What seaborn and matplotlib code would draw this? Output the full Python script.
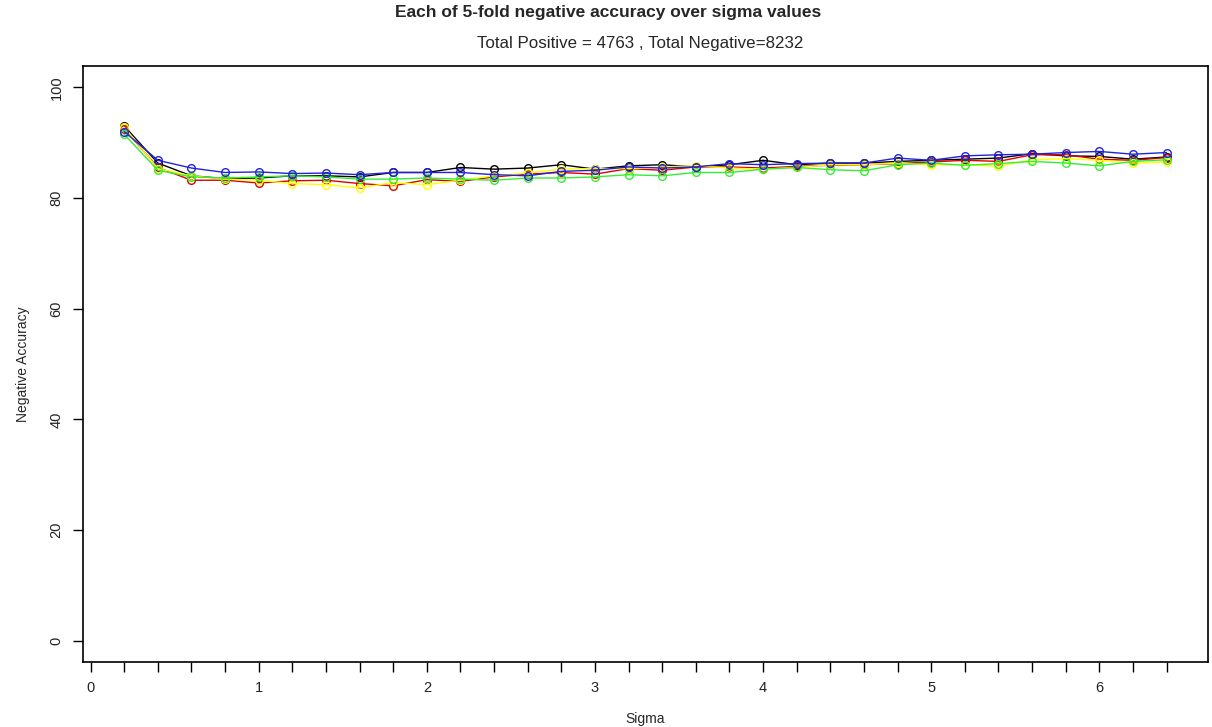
import numpy as np
import pandas as pd
import matplotlib
matplotlib.use("Agg")
import matplotlib.pyplot as plt
import seaborn as sns

sigma = [0.2, 0.4, 0.6, 0.8, 1.0, 1.2, 1.4, 1.6, 1.8, 2.0, 2.2, 2.4, 2.6, 2.8, 3.0, 3.2,
         3.4, 3.6, 3.8, 4.0, 4.2, 4.4, 4.6, 4.8, 5.0, 5.2, 5.4, 5.6, 5.8, 6.0, 6.2, 6.4]

fold1 = [93.0, 86.3, 84.0, 83.5, 83.6, 84.0, 84.0, 83.8, 84.6, 84.6, 85.5, 85.2, 85.4, 86.0, 85.2, 85.8,
         86.0, 85.6, 86.0, 86.8, 86.0, 86.3, 86.3, 86.6, 86.8, 87.0, 87.2, 88.0, 87.6, 87.5, 87.0, 87.4]
fold2 = [92.5, 85.5, 83.2, 83.2, 82.7, 83.1, 83.2, 82.6, 82.2, 83.3, 83.0, 83.8, 84.3, 84.6, 84.3, 85.3,
         85.0, 85.6, 85.6, 85.4, 85.7, 85.9, 86.0, 86.2, 86.5, 86.8, 86.6, 87.8, 87.8, 87.0, 86.8, 87.3]
fold3 = [92.8, 85.3, 84.0, 83.4, 83.2, 82.6, 82.4, 81.8, 82.8, 82.4, 83.2, 84.0, 84.5, 85.2, 85.3, 85.3,
         85.6, 85.8, 85.4, 85.2, 85.5, 86.0, 86.0, 86.3, 86.0, 86.0, 85.7, 86.9, 87.1, 86.8, 86.3, 86.5]
fold4 = [91.5, 85.0, 83.8, 83.6, 83.8, 84.0, 83.8, 83.4, 83.4, 83.6, 83.4, 83.2, 83.6, 83.6, 83.8, 84.2,
         84.0, 84.6, 84.6, 85.2, 85.5, 85.1, 84.9, 86.0, 86.3, 85.9, 86.2, 86.6, 86.3, 85.8, 86.6, 86.9]
fold5 = [92.0, 86.8, 85.4, 84.6, 84.7, 84.4, 84.5, 84.2, 84.6, 84.6, 84.6, 84.2, 84.0, 84.8, 85.0, 85.6,
         85.4, 85.6, 86.2, 86.0, 86.2, 86.3, 86.3, 87.2, 86.8, 87.6, 87.8, 87.9, 88.2, 88.4, 87.9, 88.2]

fold_names = ["fold1", "fold2", "fold3", "fold4", "fold5"]
fold_colors = ["#000000", "#dd0000", "#ffff00", "#33ee33", "#2222dd"]
y_major = [0, 20, 40, 60, 80, 100]

df = pd.DataFrame({
    "Sigma": sigma * 5,
    "Accuracy": fold1 + fold2 + fold3 + fold4 + fold5,
    "Fold": [n for n in fold_names for _ in sigma],
})

sns.set_style("white")
plt.rcParams["font.family"] = ["Liberation Sans", "DejaVu Sans"]

fig = plt.figure(figsize=(12.12, 7.27), dpi=100)
ax = fig.add_axes([0.0685, 0.0894, 0.928, 0.8196])

for name, col in zip(fold_names, fold_colors):
    sub = df[df["Fold"] == name]
    sns.lineplot(data=sub, x="Sigma", y="Accuracy", ax=ax, color=col, linewidth=1.0,
                 marker="o", markersize=5.5, markerfacecolor="none",
                 markeredgecolor=col, markeredgewidth=1.0, legend=False)

ax.set_xlim(-0.045, 6.645)
ax.set_ylim(-3.8, 103.8)

xt = np.arange(0, 6.41, 0.2)
ax.set_xticks(np.round(xt, 1))
ax.set_xticklabels([str(int(round(t))) if abs(t - round(t)) < 1e-9 else "" for t in xt])
ax.set_yticks(y_major)
ax.set_yticklabels([str(v) for v in y_major], rotation=90, va="center")

ax.tick_params(axis="both", which="major", direction="out", length=7, width=1.0,
               color="black", labelsize=10.5, labelcolor="#222222", pad=7,
               bottom=True, left=True)
for s in ax.spines.values():
    s.set_visible(True)
    s.set_color("black")
    s.set_linewidth(1.2)

ax.set_xlabel("Sigma", fontsize=10, labelpad=12)
ax.set_ylabel("Negative Accuracy", fontsize=10, labelpad=14)

fig.text(0.502, 0.983, "Each of 5-fold negative accuracy over sigma values",
         ha="center", va="center", fontsize=12.5, fontweight="bold")
fig.text(0.528, 0.940, "Total Positive = 4763 , Total Negative=8232",
         ha="center", va="center", fontsize=12.2)

fig.savefig("out.png", dpi=100)
